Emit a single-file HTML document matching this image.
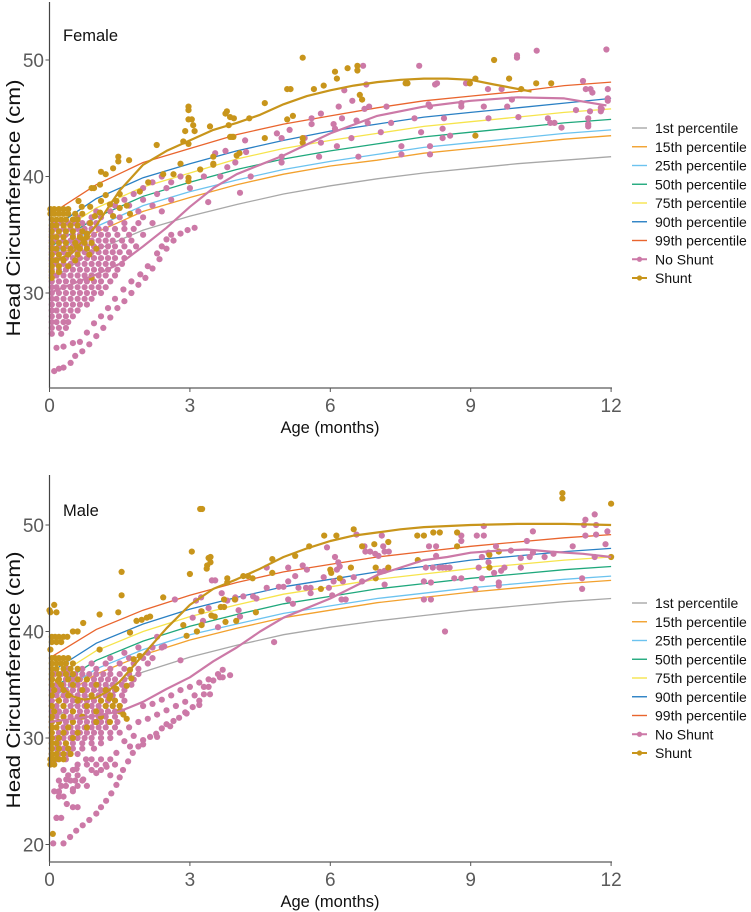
<!DOCTYPE html>
<html><head><meta charset="utf-8"><style>
html,body{margin:0;padding:0;background:#fff;}
svg{display:block;font-family:"Liberation Sans",Arial,sans-serif;}
</style></head><body>
<svg id="chart" width="751" height="912" viewBox="0 0 751 912" xmlns="http://www.w3.org/2000/svg"></svg>
<script>
// ---------- DATA ----------
const months = [0,1,2,3,4,5,6,7,8,9,10,11,12];
const pctNames = ["1st percentile","15th percentile","25th percentile","50th percentile","75th percentile","90th percentile","99th percentile"];
const pctColors = ["#a8a8a8","#f2a12e","#6cc3ef","#1fa87c","#f6e44c","#2a80c4","#e9652e"];
// Female WHO percentiles (cm)
const fP1  = [31.1,33.7,35.4,36.6,37.6,38.5,39.2,39.8,40.3,40.7,41.1,41.4,41.7];
const fP15 = [32.7,35.2,37.0,38.2,39.3,40.2,40.9,41.4,42.0,42.4,42.8,43.2,43.5];
const fP25 = [33.1,35.7,37.5,38.7,39.7,40.6,41.3,41.9,42.5,42.9,43.3,43.7,44.0];
const fP50 = [33.9,36.5,38.3,39.5,40.6,41.5,42.2,42.8,43.4,43.8,44.2,44.6,44.9];
const fP75 = [34.7,37.3,39.1,40.3,41.5,42.4,43.1,43.7,44.3,44.7,45.1,45.5,45.8];
const fP90 = [35.4,38.1,39.9,41.1,42.2,43.1,43.9,44.5,45.1,45.5,45.9,46.3,46.7];
const fP99 = [36.7,39.3,41.2,42.4,43.6,44.5,45.2,45.9,46.5,46.9,47.3,47.8,48.1];
// Male WHO percentiles (cm)
const mP1  = [31.6,34.4,36.2,37.6,38.7,39.7,40.4,41.0,41.5,42.0,42.4,42.8,43.1];
const mP15 = [33.2,36.0,37.8,39.2,40.3,41.3,42.0,42.7,43.2,43.7,44.1,44.5,44.8];
const mP25 = [33.6,36.5,38.3,39.7,40.7,41.7,42.4,43.1,43.6,44.1,44.5,44.9,45.2];
const mP50 = [34.5,37.3,39.1,40.5,41.6,42.6,43.3,44.0,44.5,45.0,45.4,45.8,46.1];
const mP75 = [35.4,38.2,40.0,41.4,42.5,43.5,44.2,44.9,45.4,45.9,46.3,46.7,47.0];
const mP90 = [36.1,38.9,40.7,42.1,43.2,44.2,44.9,45.6,46.1,46.7,47.1,47.5,47.8];
const mP99 = [37.5,40.2,42.0,43.4,44.6,45.6,46.3,47.0,47.5,48.0,48.4,48.8,49.1];

// Trend lines [age, cm]
const fNoShuntTrend = [[0,30.0],[0.5,30.8],[1,31.6],[1.5,32.5],[2,34.0],[2.5,35.6],[3,37.4],[3.5,39.0],[4,40.2],[4.5,41.0],[5,41.8],[6,43.7],[7,45.2],[8,46.0],[9,46.5],[10,46.8],[11,46.7],[11.9,46.1]];
const fShuntTrend = [[0,32.5],[0.5,33.5],[1,35.8],[1.5,38.8],[2,41.0],[2.5,42.2],[3,43.1],[3.5,44.0],[4,44.6],[4.5,45.3],[5,46.2],[5.5,46.9],[6,47.4],[6.5,47.8],[7,48.1],[7.5,48.3],[8,48.4],[8.5,48.4],[9,48.3],[9.5,47.9],[10.3,47.3]];
const mNoShuntTrend = [[0,31.5],[0.5,31.8],[1,32.1],[1.5,32.5],[2,33.4],[2.5,34.6],[3,35.7],[3.5,37.2],[4,38.5],[4.5,40.0],[5,41.3],[6,43.1],[7,45.3],[8,46.7],[8.5,47.0],[9,47.4],[9.6,47.6],[10.2,47.7],[10.7,47.5],[11.4,47.3],[12,47.0]];
const mShuntTrend = [[0,36.0],[0.25,34.8],[0.5,33.9],[0.75,33.6],[1,33.8],[1.25,34.4],[1.5,35.3],[2,37.8],[2.5,40.3],[3,42.5],[3.5,44.0],[4,44.9],[4.5,45.9],[5,47.0],[5.5,47.8],[6,48.5],[6.5,49.0],[7,49.3],[7.5,49.6],[8,49.8],[9,50.0],[10,50.1],[11,50.1],[12,50.0]];

const fNoShuntRows = [
 [40.0,[2.4,2.8,3.3]],[39.5,[2.2,2.6]],[39.0,[2.0,2.5,3.0]],[38.5,[1.8,2.3]],[38.0,[1.6,2.0,2.6]],[37.5,[1.4,1.7,2.2]],[37.0,[1.0,1.3,1.9,2.4]],[36.5,[0.6,0.9,1.1,1.5,2.0]],
 [36.0,[0.1,0.25,0.4,0.55,0.7,0.85,1.0,1.3,1.6,1.9,2.2]],
 [35.5,[0.05,0.15,0.3,0.45,0.6,0.75,0.9,1.05,1.2,1.4,1.6,1.8]],
 [35.0,[0.05,0.2,0.35,0.5,0.65,0.8,0.95,1.1,1.25,1.45,1.7,2.0]],
 [34.5,[0.05,0.15,0.3,0.45,0.6,0.75,0.9,1.05,1.2,1.35,1.55,1.75]],
 [34.0,[0.05,0.2,0.35,0.5,0.65,0.8,0.95,1.1,1.25,1.4,1.6,1.85]],
 [33.5,[0.05,0.15,0.3,0.45,0.6,0.75,0.9,1.05,1.2,1.35,1.5,1.7]],
 [33.0,[0.05,0.2,0.35,0.5,0.65,0.8,0.95,1.1,1.25,1.4,1.6]],
 [32.5,[0.05,0.15,0.3,0.45,0.6,0.75,0.9,1.05,1.2,1.35,1.55]],
 [32.0,[0.05,0.2,0.35,0.5,0.65,0.8,0.95,1.1,1.25,1.45]],
 [31.5,[0.05,0.15,0.3,0.45,0.6,0.75,0.9,1.05,1.2,1.4]],
 [31.0,[0.05,0.2,0.35,0.5,0.65,0.8,0.95,1.1,1.3]],
 [30.5,[0.05,0.15,0.3,0.45,0.6,0.75,0.9,1.05,1.2]],
 [30.0,[0.05,0.2,0.35,0.5,0.65,0.8,0.95,1.1]],
 [29.5,[0.05,0.15,0.3,0.45,0.6,0.75,0.9]],
 [29.0,[0.05,0.2,0.35,0.5,0.65,0.8]],
 [28.5,[0.05,0.15,0.3,0.45,0.6]],
 [28.0,[0.05,0.2,0.35,0.5]],
 [27.5,[0.05,0.15,0.3,0.4]],
 [27.0,[0.05,0.2,0.35]],
 [26.5,[0.05,0.25]]
];
const fNoShuntPts = [
 [0.1,23.3],[0.2,23.5],[0.3,23.6],[0.45,24.0],[0.55,24.6],[0.7,25.0],[0.85,25.6],[1.0,26.3],[1.15,27.0],[1.3,27.9],[1.45,28.7],[1.6,29.3],[1.75,30.0],[1.9,30.7],[2.05,31.3],[2.2,32.1],[2.35,32.9],[2.5,33.8],[2.65,34.5],[2.8,35.1],[2.95,35.4],[3.1,35.6],
 [0.15,25.3],[0.3,25.4],[0.5,25.7],[0.65,25.8],[0.8,26.6],[0.95,27.4],[1.1,28.0],[1.25,28.7],[1.4,29.5],[1.58,30.3],[1.75,31.0],[1.94,31.6],[2.1,32.3],[2.3,33.4],[2.4,34.0],[2.5,34.6],[2.6,35.0],
 [3.39,37.8],[3.54,42.0],[3.65,40.0],[3.8,40.8],[3.76,42.2],[3.97,41.2],[4.07,38.6],[4.18,43.1],[4.2,42.1],[4.3,40.0],[4.86,43.7],[4.96,43.3],[4.96,41.7],[4.96,41.2],[5.13,44.0],[5.45,43.3],[5.6,45.0],[5.6,44.5],[5.8,45.4],[5.8,42.9],[5.76,41.7],[6.07,44.5],[6.1,44.1],[6.14,42.6],[6.18,46.0],[6.25,45.0],[6.3,47.4],[6.45,43.3],[6.47,46.5],[6.56,44.8],[6.6,41.7],[6.7,49.5],[6.73,45.8],[6.77,47.9],[6.8,44.6],[6.83,46.0],[7.08,43.8],[7.2,46.0],[7.3,44.6],[7.52,42.6],[7.52,41.9],[7.8,45.0],[7.9,49.5],[7.94,43.8],[8.1,46.2],[8.13,46.0],[8.24,47.9],[8.4,43.3],[8.4,44.1],
 [8.28,48.0],[8.9,48.0],[8.98,48.0],[8.8,46.3],[8.8,46.0],[8.43,45.0],[8.56,43.5],[8.13,42.6],[8.13,41.9],[9.37,47.5],[9.28,46.0],[9.38,45.0],[9.66,47.5],[9.78,46.0],[9.88,46.6],[9.99,50.4],[9.99,50.2],[10.41,50.8],[10.02,45.1],[10.65,45.0],[10.7,44.6],[10.79,44.6],[10.94,44.2],[11.25,45.7],[11.4,48.2],[11.51,45.0],[11.51,44.5],[11.51,44.3],[11.55,45.6],[11.78,45.9],[11.78,45.6],[11.46,47.5],[11.56,47.5],[11.6,47.2],[11.8,45.8],[11.9,50.9],[11.93,47.5],[11.93,46.7],[11.93,46.5]
];
const fShuntRows = [
 [37.2,[0.02,0.1,0.2,0.3,0.4]],
 [36.8,[0.02,0.1,0.2,0.3,0.4,0.55,0.7]],
 [36.3,[0.05,0.15,0.25,0.35,0.5,0.6]],
 [35.8,[0.05,0.15,0.3,0.45,0.6]],
 [35.3,[0.05,0.2,0.35,0.5,0.7]],
 [34.8,[0.05,0.15,0.3,0.5,0.65,0.8]],
 [34.3,[0.05,0.2,0.35,0.55,0.75,0.9]],
 [33.8,[0.05,0.15,0.3,0.45,0.65,0.8,1.0]],
 [33.3,[0.05,0.2,0.4,0.6,0.85]],
 [32.8,[0.05,0.15,0.3,0.55]],
 [32.3,[0.05,0.2,0.4]],
 [31.8,[0.05,0.2]],
 [31.3,[0.05,0.9]]
];
const fShuntPts = [
 [0.9,39.0],[0.95,39.0],[1.1,40.4],[1.2,40.2],[1.36,40.7],[1.47,41.7],[1.47,41.3],[1.7,41.4],[1.2,38.4],[1.43,37.9],[1.5,37.3],[1.08,36.9],[1.1,37.9],[0.97,36.6],[0.87,36.0],[0.8,35.1],[0.72,34.6],[0.58,34.0],[1.36,36.6],[1.29,37.6],[1.65,37.5],[1.72,36.8],[1.5,38.5],[0.62,37.9],[0.69,37.4],[0.87,37.4],[1.08,39.3],[1.93,38.7],[2.11,39.5],[2.29,42.7],[2.43,40.2],[2.65,40.2],[2.8,41.1],[2.86,43.0],[2.9,43.9],[2.97,46.0],[2.97,45.7],[2.97,44.9],[3.04,44.9],[3.07,44.4],[3.1,43.9],[2.97,42.8],[2.97,39.9],[2.97,39.6],[3.22,40.6],[3.43,44.3],[3.5,41.1],[3.5,41.7],[3.79,45.6],[3.86,45.1],[3.86,43.4],[3.93,43.4],[4.0,41.8],
 [3.5,41.0],[3.76,45.4],[3.83,44.4],[3.94,45.0],[3.9,43.4],[4.06,42.0],[4.27,45.0],[4.6,46.3],[4.6,43.3],[5.08,47.5],[5.15,47.5],[5.08,44.9],[5.2,45.2],[5.41,50.2],[5.41,43.3],[5.41,42.9],[5.65,47.5],[5.86,47.8],[6.1,49.0],[6.14,48.4],[6.37,49.3],[6.58,49.5],[6.58,49.1],[6.63,47.0],[6.68,46.6],[7.61,48.0],[7.65,48.0],
 [8.98,48.0],[9.1,48.4],[9.5,50.0],[9.82,48.4],[10.08,47.5],[10.4,48.0],[10.72,48.0],[9.1,43.5]
];
const mNoShuntRows = [
 [38.5,[1.9,2.2,2.4]],[38.0,[1.6,2.1]],[37.5,[1.3,1.7,2.0,2.2]],[37.0,[0.9,1.2,1.5,1.8,2.1]],
 [36.5,[0.4,0.7,1.0,1.3,1.6,1.9]],
 [36.0,[0.1,0.25,0.4,0.55,0.7,0.85,1.0,1.15,1.3,1.5,1.7,1.9]],
 [35.5,[0.05,0.2,0.35,0.5,0.65,0.8,0.95,1.1,1.25,1.4,1.6,1.8]],
 [35.0,[0.05,0.15,0.3,0.45,0.6,0.75,0.9,1.05,1.2,1.35,1.55,1.75]],
 [34.5,[0.05,0.2,0.35,0.5,0.65,0.8,0.95,1.1,1.25,1.4,1.6]],
 [34.0,[0.05,0.15,0.3,0.45,0.6,0.75,0.9,1.05,1.2,1.35,1.55]],
 [33.5,[0.05,0.2,0.35,0.5,0.65,0.8,0.95,1.1,1.25,1.4,1.6]],
 [33.0,[0.05,0.15,0.3,0.45,0.6,0.75,0.9,1.05,1.2,1.35,1.5]],
 [32.5,[0.05,0.2,0.35,0.5,0.65,0.8,0.95,1.1,1.25,1.4,1.55]],
 [32.0,[0.05,0.15,0.3,0.45,0.6,0.75,0.9,1.05,1.2,1.4]],
 [31.5,[0.05,0.2,0.35,0.5,0.65,0.8,0.95,1.1,1.25,1.45]],
 [31.0,[0.05,0.15,0.3,0.45,0.6,0.75,0.9,1.05,1.2,1.4]],
 [30.5,[0.05,0.2,0.35,0.5,0.65,0.8,0.95,1.1,1.3]],
 [30.0,[0.05,0.15,0.3,0.45,0.6,0.75,0.9,1.1,1.3]],
 [29.5,[0.05,0.2,0.35,0.5,0.7,0.9,1.1]],
 [29.0,[0.05,0.15,0.3,0.5,0.7,0.95]],
 [28.5,[0.05,0.2,0.4,0.6]],
 [28.0,[0.05,0.15,0.35,0.9,1.1,1.3]],
 [27.5,[0.6,0.8,1.0,1.2,1.4]],[27.0,[0.3,0.5,0.9,1.1]],[26.5,[0.4,0.6,1.3]],[26.0,[0.2,0.45,0.55,0.7]],[25.5,[0.25,0.35,0.6,0.8]],[25.0,[0.1,0.2,0.5]],[24.5,[0.2,0.3]],[23.5,[0.5,0.6]],[22.5,[0.15,0.25]]
];
const mNoShuntPts = [
 [0.08,20.1],[0.3,20.1],[0.44,20.7],[0.57,21.3],[0.71,21.8],[0.85,22.3],[1.0,22.9],[1.1,23.5],[1.21,24.1],[1.32,24.8],[1.43,25.6],[1.5,26.3],[1.57,27.0],[1.68,27.8],[1.78,28.6],[1.9,29.2],[2.0,29.8],[2.15,30.1],[2.28,30.4],[2.4,30.9],[2.5,31.3],[2.65,31.6],[2.77,31.9],[2.9,32.4],[3.06,32.9],[3.2,33.5],[3.3,34.1],[3.4,34.8],[3.5,35.4],[3.7,35.7],[3.86,35.9],
 [0.15,22.5],[0.37,23.8],[0.5,25.2],[0.72,26.1],[1.0,26.7],[1.22,27.3],[1.43,28.6],[1.72,29.2],[2.0,29.4],[2.3,30.1],[2.58,31.1],[2.93,32.3],[3.2,33.1],[3.43,34.1],[3.64,35.7],
 [0.2,24.9],[0.36,26.1],[0.58,27.1],[0.78,28.0],
 [1.9,31.5],[2.1,31.8],[2.3,32.2],[2.5,32.6],[2.7,33.0],[2.9,33.4],[3.1,34.0],[3.3,34.8],[2.0,33.0],[2.2,33.2],[2.4,33.6],[2.6,34.0],[2.8,34.5],[3.0,34.8],[3.2,35.2],[3.4,35.5],[3.6,36.0],[3.7,36.4],[1.5,30.5],[1.7,31.0],[1.8,30.2],[1.6,29.7],
 [2.68,43.0],[2.3,39.5],[2.45,38.6],[2.8,37.3],[3.06,41.3],[3.13,42.9],[3.4,42.2],[3.47,44.8],[3.8,42.9],[3.97,43.2],
 [3.54,44.8],[3.24,43.2],[3.24,41.9],[3.28,41.0],[3.6,40.4],[3.68,43.6],[3.97,43.0],[4.04,42.0],[4.07,41.4],[4.14,43.3],[4.35,43.3],[4.42,43.1],[4.64,46.0],[4.64,44.1],[4.8,39.0],[4.9,44.2],[5.0,44.2],[5.1,46.0],[5.1,44.7],[5.1,43.0],[5.2,42.6],[5.25,45.2],[5.32,44.1],[5.41,46.2],[5.5,45.8],[5.48,44.1],[5.58,44.1],[5.58,43.6],[5.86,45.1],[5.93,47.9],[5.97,44.1],[6.04,43.4],[6.07,44.7],[6.1,47.0],[6.14,45.8],[6.17,46.5],[6.2,46.1],[6.24,43.0],[6.27,44.7],[6.33,43.0],[6.5,45.1],[6.56,49.1],[6.68,44.7],[6.73,48.0],[6.75,47.5],[6.85,47.5],[6.96,47.3],[7.03,47.1],[7.06,45.6],[7.1,49.0],[7.13,48.0],[7.16,47.5],[7.16,44.4],[7.16,45.7],[7.25,47.5],[8.0,44.7],[8.0,43.0],[8.04,46.0],[8.11,48.0],[8.33,46.0],[8.4,46.0],[8.45,40.0],
 [8.15,44.6],[8.15,43.0],[8.19,46.0],[8.26,48.0],[8.26,47.1],[8.47,46.0],[8.55,46.0],[8.65,45.0],[8.8,45.0],[8.8,49.0],[8.8,48.5],[9.1,44.0],[9.13,49.0],[9.17,46.0],[9.24,47.0],[9.24,45.0],[9.28,49.9],[9.28,49.0],[9.38,46.5],[9.38,47.4],[9.5,45.5],[9.54,48.0],[9.6,44.6],[9.6,44.3],[9.65,45.7],[9.72,46.0],[9.86,47.6],[10.07,46.9],[10.07,46.0],[10.2,48.5],[10.26,47.0],[10.33,47.4],[10.33,49.4],[10.58,47.0],[10.77,47.3],[11.18,48.0],[11.38,45.0],[11.38,44.0],[11.42,50.0],[11.45,50.5],[11.45,49.0],[11.65,51.0],[11.65,47.0],[11.68,50.0],[11.68,49.1],[11.88,48.2],[11.92,49.4]
];
const mShuntRows = [
 [41.8,[0.02,0.15]],[40.0,[0.5,0.6]],[39.5,[0.05,0.12,0.2,0.3,0.38]],[39.0,[0.05,0.15,0.25]],[38.3,[0.02]],
 [37.5,[0.05,0.12,0.2,0.3,0.4]],[37.0,[0.05,0.15,0.25,0.35,0.5]],[36.5,[0.05,0.15,0.3,0.45,0.6]],[36.0,[0.05,0.2,0.35,0.5]],
 [35.5,[0.05,0.2,0.4,0.6,0.8]],[35.0,[0.05,0.25,0.5,1.0]],[34.5,[0.1,0.3,0.7,1.2]],[34.0,[0.05,0.4,0.9,1.3]],
 [33.5,[0.2,0.6,1.1,1.4]],[33.0,[0.05,0.3,0.8,1.2,1.5]],[32.5,[0.1,0.5,1.0,1.5]],[32.0,[0.05,0.3,0.7,1.1]],
 [31.5,[0.05,0.2,0.5,1.0]],[31.0,[0.05,0.15,0.4,0.8]],[30.5,[0.05,0.3,0.6]],[30.0,[0.05,0.2,0.5]],
 [29.5,[0.05,0.15,0.35]],[29.0,[0.05,0.2,0.4]],[28.5,[0.05,0.15,0.3,0.45]],[28.0,[0.02,0.1,0.2,0.3]],[27.5,[0.02,0.1]],[21.0,[0.07]]
];
const mShuntPts = [
 [0.0,42.0],[0.1,42.5],[0.72,40.8],[1.07,41.6],[1.47,41.8],[1.54,45.6],[1.54,43.4],[1.07,38.3],[1.72,39.9],[1.86,41.0],[1.97,41.1],[2.08,41.3],[2.15,41.4],[1.8,37.4],[1.93,37.7],[1.72,36.4],[1.65,34.9],[1.75,35.6],[1.43,34.6],[1.28,33.7],[1.35,33.0],[1.58,32.2],[1.65,31.8],[1.29,31.5],[2.43,43.2],[2.86,40.6],[2.93,39.6],[3.15,40.0],[3.0,45.4],[3.04,47.5],[3.26,51.5],[3.22,51.5],[3.36,45.9],[3.4,46.9],
 [3.37,46.2],[3.44,47.0],[3.44,46.5],[3.8,45.0],[3.8,44.6],[3.73,43.0],[3.73,42.3],[3.66,42.3],[3.46,41.5],[3.53,41.4],[3.25,40.6],[3.25,41.9],[3.76,40.9],[3.96,43.0],[3.99,41.0],[4.14,45.2],[4.24,45.2],[4.34,45.0],[4.41,41.8],[4.76,46.8],[4.76,45.5],[5.25,47.1],[5.55,48.0],[5.8,44.0],[5.87,49.0],[6.0,45.8],[6.02,45.5],[6.13,49.0],[6.2,45.0],[6.44,46.0],[6.5,49.6],[6.68,48.0],[6.94,48.2],[6.97,46.0],[6.97,45.0],[7.24,48.4],[7.24,46.0],[7.86,49.0],[8.2,49.3],
 [7.87,46.7],[8.0,49.0],[8.34,49.3],[8.71,49.3],[8.71,48.0],[9.4,47.2],[9.4,46.0],[9.6,47.5],[10.96,53.0],[10.96,52.5],[12.0,52.0],[12.0,47.0]
];

// ---------- DRAWING ----------
const svg = document.getElementById('chart');
const NS = 'http://www.w3.org/2000/svg';
const PINK = '#cc79a7', GOLD = '#c8951b';
function el(tag, attrs, parent) {
  const e = document.createElementNS(NS, tag);
  for (const k in attrs) e.setAttribute(k, attrs[k]);
  (parent || svg).appendChild(e);
  return e;
}
function makePanel(cfg) {
  const g = el('g', {});
  
  
  const sx = a => 49.5 + a * 46.8;
  const sy = c => cfg.yRef - (c - cfg.cRef) * cfg.ppc;
  cfg.pct.forEach((arr, i) => {
    const p = el('polyline', {points: arr.map((v, j) => sx(months[j]).toFixed(1) + ',' + sy(v).toFixed(1)).join(' '), fill: 'none', stroke: pctColors[i], 'stroke-width': 1.3}, g);
    
    
  });
  function dots(rows, pts, color, label) {
    const dg = el('g', {fill: color}, g);
    
    
    rows.forEach(r => r[1].forEach(a => {
      const c = el('circle', {cx: sx(a).toFixed(1), cy: sy(r[0]).toFixed(1), r: 3.1}, dg);
      
      
    }));
    pts.forEach(p => {
      const c = el('circle', {cx: sx(p[0]).toFixed(1), cy: sy(p[1]).toFixed(1), r: 3.1}, dg);
      
      
    });
  }
  dots(cfg.nsRows, cfg.nsPts, PINK, 'no-shunt');
  dots(cfg.sRows, cfg.sPts, GOLD, 'shunt');
  function trend(arr, color, label) {
    const p = el('polyline', {points: arr.map(q => sx(q[0]).toFixed(1) + ',' + sy(q[1]).toFixed(1)).join(' '), fill: 'none', stroke: color, 'stroke-width': 2.2, 'stroke-linejoin': 'round'}, g);
    
    
  }
  trend(cfg.nsTrend, PINK, 'no-shunt');
  trend(cfg.sTrend, GOLD, 'shunt');
  const ya = el('line', {x1: 49.5, y1: cfg.top, x2: 49.5, y2: cfg.bottom, stroke: '#444', 'stroke-width': 1.2}, g);
  
  
  const xa = el('line', {x1: 49.5, y1: cfg.bottom, x2: 612, y2: cfg.bottom, stroke: '#777', 'stroke-width': 1.5}, g);
  
  
  [0,3,6,9,12].forEach(t => {
    el('line', {x1: sx(t), y1: cfg.bottom, x2: sx(t), y2: cfg.bottom + 4, stroke: '#555'}, g);
    const tx = el('text', {x: sx(t), y: cfg.bottom + 24, 'text-anchor': 'middle', 'font-size': 19, fill: '#5a5a5a'}, g);
    tx.textContent = t;
    
    
  });
  cfg.yTicks.forEach(t => {
    el('line', {x1: 45.5, y1: sy(t), x2: 49.5, y2: sy(t), stroke: '#555'}, g);
    const tx = el('text', {x: 44, y: sy(t) + 7, 'text-anchor': 'end', 'font-size': 19, fill: '#5a5a5a'}, g);
    tx.textContent = t;
    
    
  });
  const xt = el('text', {x: 330, y: cfg.bottom + 45, 'text-anchor': 'middle', 'font-size': 16.5, fill: '#111'}, g);
  xt.textContent = 'Age (months)';
  
  
  const yt = el('text', {x: 0, y: 0, 'text-anchor': 'middle', 'font-size': 19, fill: '#111', transform: 'translate(20,' + cfg.yTitleY + ') rotate(-90)', textLength: 257, lengthAdjust: 'spacingAndGlyphs'}, g);
  yt.textContent = 'Head Circumference (cm)';
  
  
  const st = el('text', {x: 63, y: cfg.titleY, 'font-size': 16.5, fill: '#111'}, g);
  st.textContent = cfg.title;
  
  
  const lg = el('g', {}, g);
  
  
  const entries = pctNames.map((n, i) => [n, pctColors[i], false]).concat([['No Shunt', PINK, true], ['Shunt', GOLD, true]]);
  entries.forEach((e, i) => {
    const y = cfg.legendY + i * 18.75;
    const eg = el('g', {}, lg);
    
    
    el('line', {x1: 632, y1: y, x2: 647, y2: y, stroke: e[1], 'stroke-width': e[2] ? 2 : 1.4}, eg);
    if (e[2]) el('circle', {cx: 639.5, cy: y, r: 2.6, fill: e[1]}, eg);
    const t = el('text', {x: 655, y: y + 5, 'font-size': 14, fill: '#111'}, eg);
    t.textContent = e[0];
  });
}
makePanel({name: 'female', title: 'Female', yRef: 293, cRef: 30, ppc: 11.65, top: 2, bottom: 388, yTicks: [30,40,50], yTitleY: 208, titleY: 41, legendY: 128,
  pct: [fP1,fP15,fP25,fP50,fP75,fP90,fP99], nsRows: fNoShuntRows, nsPts: fNoShuntPts, sRows: fShuntRows, sPts: fShuntPts, nsTrend: fNoShuntTrend, sTrend: fShuntTrend});
makePanel({name: 'male', title: 'Male', yRef: 525, cRef: 50, ppc: 10.65, top: 475, bottom: 862, yTicks: [20,30,40,50], yTitleY: 680, titleY: 516, legendY: 603,
  pct: [mP1,mP15,mP25,mP50,mP75,mP90,mP99], nsRows: mNoShuntRows, nsPts: mNoShuntPts, sRows: mShuntRows, sPts: mShuntPts, nsTrend: mNoShuntTrend, sTrend: mShuntTrend});
</script>
</body></html>
